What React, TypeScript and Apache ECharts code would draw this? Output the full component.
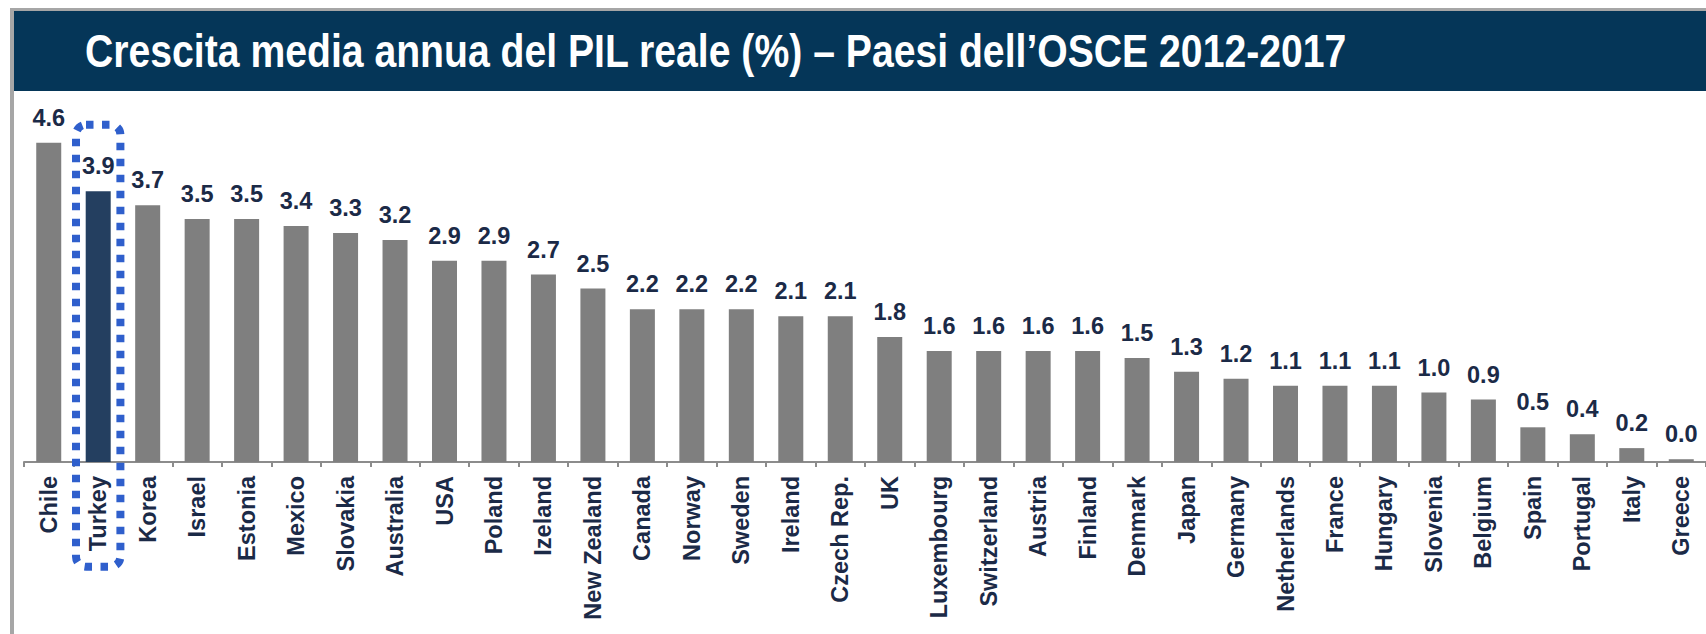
import React, { useEffect, useRef } from "react";
import * as echarts from "echarts";

const titleText = "Crescita media annua del PIL reale (%) – Paesi dell’OSCE 2012-2017";
const categories = [
  "Chile", "Turkey", "Korea", "Israel", "Estonia", "Mexico", "Slovakia", "Australia",
  "USA", "Poland", "Izeland", "New Zealand", "Canada", "Norway", "Sweden", "Ireland",
  "Czech Rep.", "UK", "Luxembourg", "Switzerland", "Austria", "Finland", "Denmark", "Japan",
  "Germany", "Netherlands", "France", "Hungary", "Slovenia", "Belgium", "Spain", "Portugal",
  "Italy", "Greece",
];
const growth = [
  4.6, 3.9, 3.7, 3.5, 3.5, 3.4, 3.3, 3.2,
  2.9, 2.9, 2.7, 2.5, 2.2, 2.2, 2.2, 2.1,
  2.1, 1.8, 1.6, 1.6, 1.6, 1.6, 1.5, 1.3,
  1.2, 1.1, 1.1, 1.1, 1.0, 0.9, 0.5, 0.4,
  0.2, 0.04,
];
const highlighted = "Turkey";

const FONT = "'Liberation Sans Narrow', 'Arial Narrow', 'Liberation Sans', Arial, sans-serif";
const LABEL_COLOR = "#1b2a47";

export default function App() {
  const ref = useRef<HTMLDivElement>(null);
  useEffect(() => {
    if (!ref.current) return;
    const chart = echarts.init(ref.current, undefined, { renderer: "svg" });
    const option: any = {
      animation: false,
      backgroundColor: "#ffffff",
      grid: { left: 24, top: 115, width: 1685.6, height: 347, containLabel: false },
      xAxis: {
        type: "category",
        data: categories,
        axisLine: { show: true, lineStyle: { color: "#8c8c8c", width: 2 } },
        axisTick: { show: true, length: 5, lineStyle: { color: "#8c8c8c", width: 2 } },
        axisLabel: {
          rotate: 90,
          margin: 14,
          interval: 0,
          color: LABEL_COLOR,
          fontFamily: FONT,
          fontWeight: "bold",
          fontSize: 23.5,
        },
      },
      yAxis: { type: "value", min: 0, max: 5, show: false },
      series: [
        {
          type: "bar",
          barWidth: 25,
          data: growth.map((v, i) => ({
            value: v,
            itemStyle: { color: categories[i] === highlighted ? "#243f60" : "#7f7f7f" },
          })),
          label: {
            show: true,
            position: "top",
            distance: 13,
            formatter: (p: any) => Number(p.value).toFixed(1),
            color: LABEL_COLOR,
            fontFamily: FONT,
            fontWeight: "bold",
            fontSize: 23.5,
          },
        },
      ],
    };
    chart.setOption(option);
    const cx = chart.convertToPixel({ xAxisIndex: 0 }, highlighted) as number;
    const graphic = [
      { type: "rect", z: 10, shape: { x: 10, y: 8, width: 4, height: 626 }, style: { fill: "#a6a6a6" } },
      { type: "rect", z: 10, shape: { x: 10, y: 8, width: 1696, height: 3 }, style: { fill: "#a6a6a6" } },
      { type: "rect", z: 10, shape: { x: 14, y: 11, width: 1692, height: 80 }, style: { fill: "#053658" } },
      {
        type: "text",
        z: 11,
        x: 85,
        y: 51,
        scaleX: 0.833,
        style: {
          text: titleText,
          fill: "#ffffff",
          font: "bold 47px 'Liberation Sans', Arial, sans-serif",
          verticalAlign: "middle",
          align: "left",
        },
      },
      {
        type: "rect",
        z: 12,
        shape: { x: cx - 22.2, y: 124.7, width: 44.4, height: 442, r: 10 },
        style: { fill: "none", stroke: "#2f5fcc", lineWidth: 8, lineDash: [7.5, 8.5] },
      },
    ];
    chart.setOption({ graphic });
    return () => chart.dispose();
  }, []);
  return (
    <div
      ref={ref}
      style={{ position: "absolute", left: 0, top: 0, width: 1706, height: 634 }}
    />
  );
}
